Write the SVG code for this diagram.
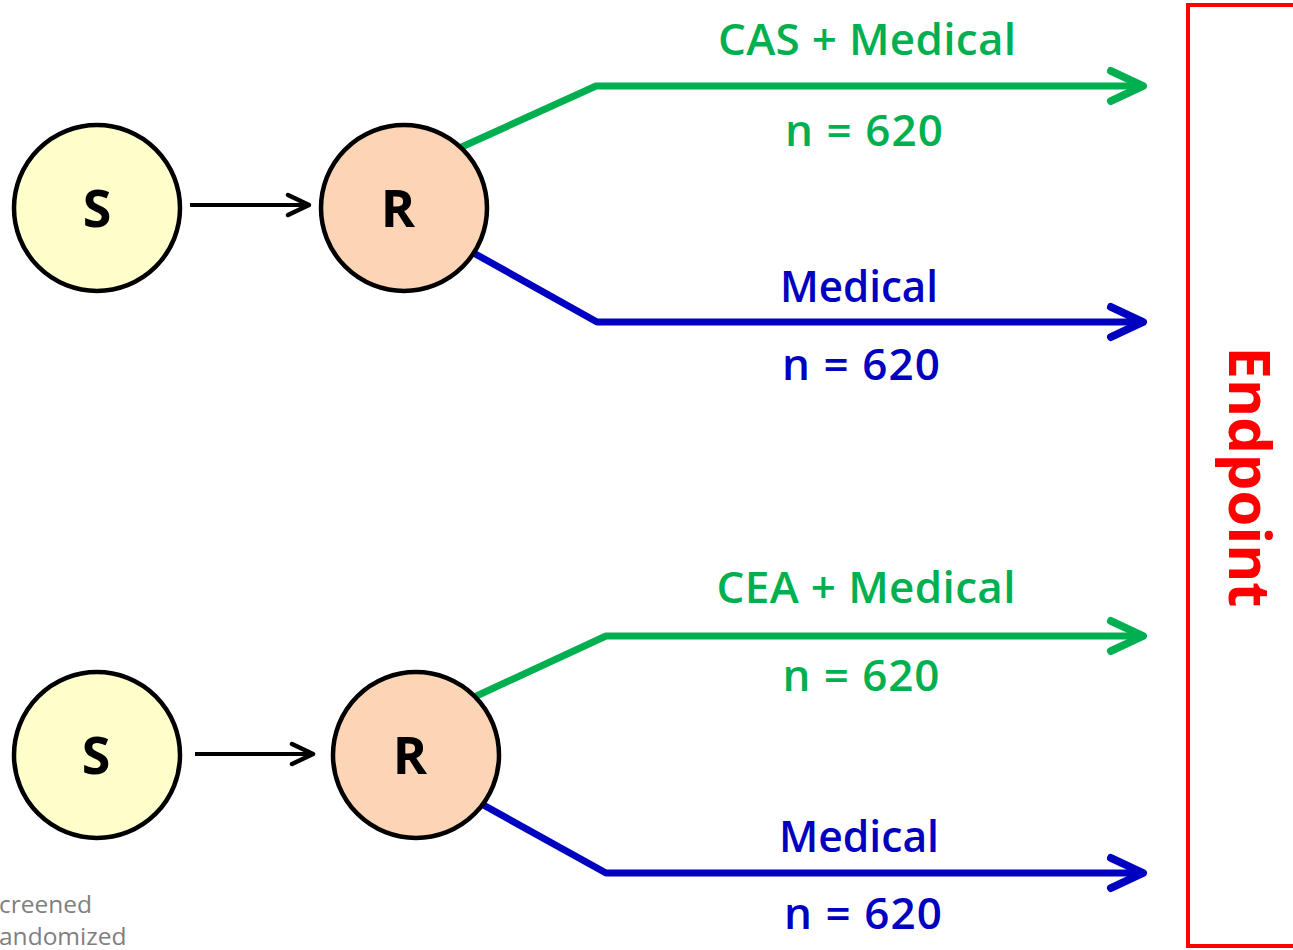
<svg xmlns="http://www.w3.org/2000/svg" width="1293" height="950" viewBox="0 0 1293 950">
  <style>
    .lbl { font-family: "Open Sans", "DejaVu Sans", sans-serif; font-weight: 600; font-size: 44px; text-anchor: middle; }
    .grn { fill: #00B050; }
    .blu { fill: #0000C0; }
    .node-s { fill: #FFFFCC; stroke: #000; stroke-width: 4.5; }
    .node-r { fill: #FBD5B5; stroke: #000; stroke-width: 4.5; }
    .node-t { font-family: "Open Sans", "DejaVu Sans", sans-serif; font-weight: 700; font-size: 52px; text-anchor: middle; fill: #000; }
    .arm-g { fill: none; stroke: #00B050; stroke-width: 7; stroke-linejoin: round; }
    .arm-b { fill: none; stroke: #0000C0; stroke-width: 7; stroke-linejoin: round; }
    .step { fill: none; stroke: #000; stroke-width: 4; }
    .note { font-family: "Open Sans", "DejaVu Sans", sans-serif; font-size: 24.5px; fill: #7F7F7F; }
  </style>
  <defs>
    <marker id="headG" markerUnits="userSpaceOnUse" viewBox="-40 -22 46 44" refX="0" refY="0" markerWidth="46" markerHeight="44" orient="auto" overflow="visible">
      <path d="M-32,-15 L0,0 L-32,15" fill="none" stroke="#00B050" stroke-width="8" stroke-linecap="round" stroke-linejoin="round"/>
    </marker>
    <marker id="headB" markerUnits="userSpaceOnUse" viewBox="-40 -22 46 44" refX="0" refY="0" markerWidth="46" markerHeight="44" orient="auto" overflow="visible">
      <path d="M-32,-15 L0,0 L-32,15" fill="none" stroke="#0000C0" stroke-width="8" stroke-linecap="round" stroke-linejoin="round"/>
    </marker>
    <marker id="headK" markerUnits="userSpaceOnUse" viewBox="-30 -14 34 28" refX="0" refY="0" markerWidth="34" markerHeight="28" orient="auto" overflow="visible">
      <path d="M-21,-10 L0,0 L-21,10" fill="none" stroke="#000" stroke-width="4.5" stroke-linecap="round" stroke-linejoin="round"/>
    </marker>
  </defs>

  <rect width="1293" height="950" fill="#fff"/>

  <!-- connectors -->
  <g id="connectors">
    <path class="step" d="M190,205 H309" marker-end="url(#headK)"/>
    <path class="step" d="M195,754 H313" marker-end="url(#headK)"/>
    <path class="arm-g" d="M455,150 L596,86 H1143" marker-end="url(#headG)"/>
    <path class="arm-b" d="M470,251 L597,322 H1143" marker-end="url(#headB)"/>
    <path class="arm-g" d="M470,699 L606,636 H1143" marker-end="url(#headG)"/>
    <path class="arm-b" d="M478,802 L606,873 H1143" marker-end="url(#headB)"/>
  </g>

  <!-- upper trial -->
  <g id="s1">
    <circle class="node-s" cx="97" cy="208" r="83"/>
    <text class="node-t" x="97" y="227">S</text>
  </g>
  <g id="r1">
    <circle class="node-r" cx="404" cy="208" r="83"/>
    <text class="node-t" x="398" y="227">R</text>
  </g>

  <!-- lower trial -->
  <g id="s2">
    <circle class="node-s" cx="97" cy="755" r="83"/>
    <text class="node-t" x="96" y="774">S</text>
  </g>
  <g id="r2">
    <circle class="node-r" cx="416" cy="755" r="83"/>
    <text class="node-t" x="410" y="774">R</text>
  </g>

  <!-- arm labels -->
  <g id="arm-labels">
    <text class="lbl grn" x="867" y="55" textLength="298" lengthAdjust="spacing">CAS + Medical</text>
    <text class="lbl grn" x="864" y="146" textLength="158" lengthAdjust="spacing">n = 620</text>
    <text class="lbl blu" x="859" y="302" textLength="158" lengthAdjust="spacingAndGlyphs">Medical</text>
    <text class="lbl blu" x="861" y="380" textLength="158" lengthAdjust="spacing">n = 620</text>
    <text class="lbl grn" x="866" y="603" textLength="299" lengthAdjust="spacing">CEA + Medical</text>
    <text class="lbl grn" x="861" y="691" textLength="157" lengthAdjust="spacing">n = 620</text>
    <text class="lbl blu" x="859" y="852" textLength="160" lengthAdjust="spacingAndGlyphs">Medical</text>
    <text class="lbl blu" x="863" y="929" textLength="158" lengthAdjust="spacing">n = 620</text>
  </g>

  <!-- endpoint box -->
  <g id="endpoint">
    <rect x="1188" y="5" width="130" height="941" fill="none" stroke="#FF0000" stroke-width="4"/>
    <text x="1229" y="477" transform="rotate(90 1229 477)" font-family="Open Sans, DejaVu Sans, sans-serif" font-weight="700" font-size="58" fill="#FF0000" text-anchor="middle">Endpoint</text>
  </g>

  <!-- legend fragments at lower left -->
  <g id="legend">
    <text class="note" x="-1" y="913">creened</text>
    <text class="note" x="-1" y="945">andomized</text>
  </g>
</svg>
